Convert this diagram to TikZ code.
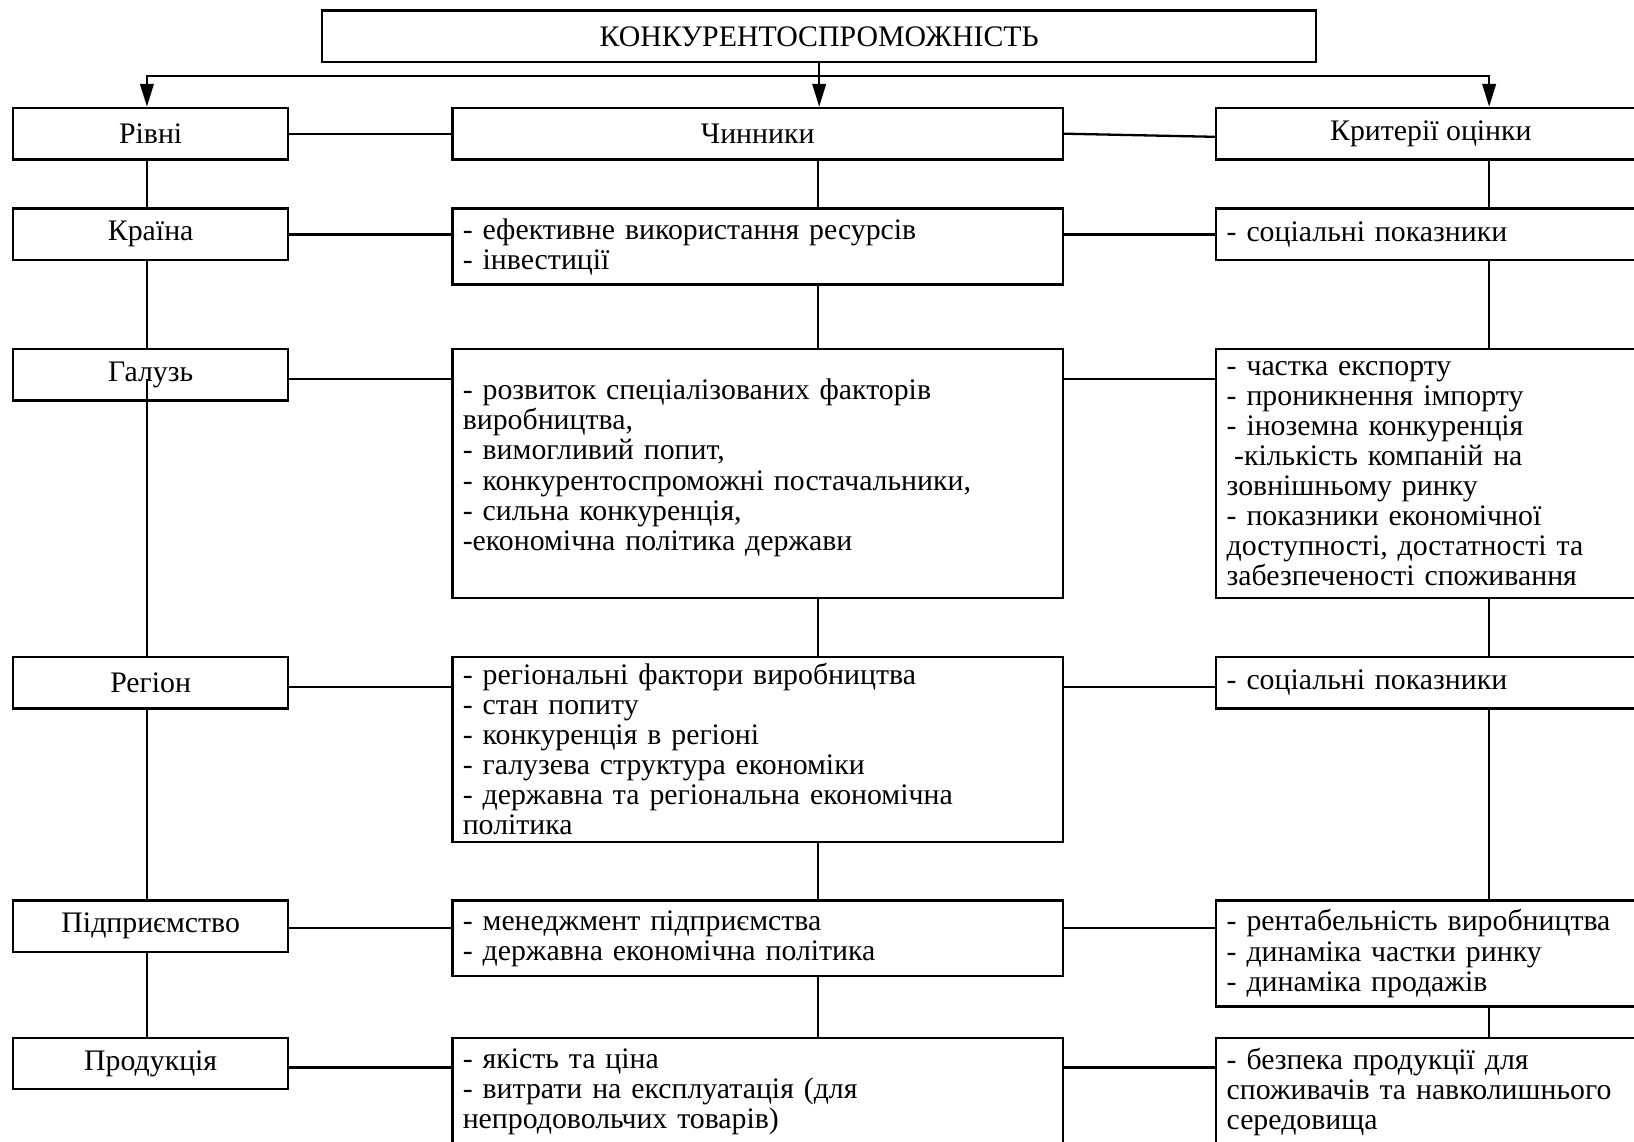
\documentclass[tikz,border=0pt]{standalone}
\usepackage{fontspec}
\setmainfont{Liberation Serif}
\usetikzlibrary{arrows.meta}
\begin{document}
\begin{tikzpicture}[x=0.5pt,y=-0.5pt,
  box/.style={draw, line width=1.1pt, fill=white, anchor=north west, inner ysep=0pt,
    font=\fontsize{14.3pt}{14.4pt}\selectfont},
  lbox/.style={box, minimum width=132pt, inner xsep=0pt, align=center},
  mbox/.style={box, inner xsep=5pt, text width=283pt, align=left},
  mhead/.style={box, minimum width=293pt, inner xsep=0pt, align=center},
  rbox/.style={box, inner xsep=5pt, text width=196pt, align=left},
  rhead/.style={box, minimum width=206pt, inner xsep=0pt, align=center},
  conn/.style={line width=1.1pt},
  arr/.style={line width=1.1pt, -{Triangle[length=11pt,width=6.5pt]}}
]
\useasboundingbox (0,0) rectangle (1568,1095);
\clip (0,0) rectangle (1568,1095);

% top
\node[box, minimum width=477pt, minimum height=24.75pt, inner xsep=0pt, align=center] (top) at (308,9) {КОНКУРЕНТОСПРОМОЖНІСТЬ};

% left column
\node[lbox, minimum height=24.8pt] (riv) at (11.5,102.4) {Рівні};
\node[lbox, minimum height=24.8pt] (kr) at (11.5,199) {Країна};
\node[lbox, minimum height=24.75pt] (gal) at (11.5,333.7) {Галузь};
\node[lbox, minimum height=24.8pt] (reg) at (11.5,629.2) {Регіон};
\node[lbox, minimum height=24.7pt] (pid) at (11.5,863) {Підприємство};
\node[lbox, minimum height=24.4pt] (prod) at (11.5,995) {Продукція};

% middle column
\node[mhead, minimum height=24.8pt] (chin) at (433,102.4) {Чинники};
\node[mbox, minimum height=36.5pt] (m1) at (433,199) {- ефективне використання ресурсів\\- інвестиції};
\node[mbox, minimum height=119.5pt] (m2) at (433,333.7) {- розвиток спеціалізованих факторів\\виробництва,\\- вимогливий попит,\\- конкурентоспроможні постачальники,\\- сильна конкуренція,\\-економічна політика держави\\[-6pt]\mbox{}};
\node[mbox, minimum height=88.8pt] (m3) at (433,629.2) {- регіональні фактори виробництва\\- стан попиту\\- конкуренція в регіоні\\- галузева структура економіки\\- державна та регіональна економічна\\політика};
\node[mbox, minimum height=36.35pt] (m4) at (433,863) {- менеджмент підприємства\\- державна економічна політика};
\node[mbox, minimum height=52pt] (m5) at (433,995) {- якість та ціна\\- витрати на експлуатація (для\\непродовольчих товарів)};

% right column
\node[rhead, minimum height=24.8pt] (krit) at (1166,102.4) {Критерії оцінки};
\node[rbox, minimum height=24.8pt] (r1) at (1166,199) {- соціальні показники};
\node[rbox, minimum height=119.5pt] (r2) at (1166,333.7) {- частка експорту\\- проникнення імпорту\\- іноземна конкуренція\\\hspace*{0.25em}-кількість компаній на\\зовнішньому ринку\\- показники економічної\\доступності, достатності та\\забезпеченості споживання};
\node[rbox, minimum height=24.8pt] (r3) at (1166,629.2) {- соціальні показники};
\node[rbox, minimum height=50.9pt] (r4) at (1166,863) {- рентабельність виробництва\\- динаміка частки ринку\\- динаміка продажів};
\node[rbox, minimum height=52pt] (r5) at (1166,995) {- безпека продукції для\\споживачів та навколишнього\\середовища};

% column lines
\coordinate (L) at (141,0);
\coordinate (M) at (785,0);
\coordinate (R) at (1429,0);
\coordinate (H) at (785,73);

% arrows from top
\draw[arr] (top.south) -- (chin.north -| top.south);
\draw[arr] (H) -| (riv.north -| L);
\draw[arr] (H) -| (krit.north -| R);

% left verticals
\draw[conn] (riv.south -| L) -- (kr.north -| L);
\draw[conn] (kr.south -| L) -- (gal.north -| L);
\draw[conn] ([yshift=-2pt]gal.center -| L) -- (reg.north -| L);
\draw[conn] (reg.south -| L) -- (pid.north -| L);
\draw[conn] (pid.south -| L) -- (prod.north -| L);

% middle verticals
\draw[conn] (chin.south -| M) -- (m1.north -| M);
\draw[conn] (m1.south -| M) -- (m2.north -| M);
\draw[conn] (m2.south -| M) -- (m3.north -| M);
\draw[conn] (m3.south -| M) -- (m4.north -| M);
\draw[conn] (m4.south -| M) -- (m5.north -| M);

% right verticals
\draw[conn] (krit.south -| R) -- (r1.north -| R);
\draw[conn] (r1.south -| R) -- (r2.north -| R);
\draw[conn] (r2.south -| R) -- (r3.north -| R);
\draw[conn] (r3.south -| R) -- (r4.north -| R);
\draw[conn] (r4.south -| R) -- (r5.north -| R);

% horizontals
\draw[conn] (riv.east) -- (riv.east -| chin.west);
\draw[conn] (chin.east) -- ([yshift=-1.5pt]krit.west);
\draw[conn] (kr.east) -- (kr.east -| m1.west);
\draw[conn] (kr.east -| m1.east) -- (kr.east -| r1.west);
\draw[conn] ([yshift=-2pt]gal.east) -- ([yshift=-2pt]gal.east -| m2.west);
\draw[conn] ([yshift=-2pt]gal.east -| m2.east) -- ([yshift=-2pt]gal.east -| r2.west);
\draw[conn] ([yshift=-2pt]reg.east) -- ([yshift=-2pt]reg.east -| m3.west);
\draw[conn] ([yshift=-2pt]reg.east -| m3.east) -- ([yshift=-2pt]reg.east -| r3.west);
\draw[conn] ([yshift=-0.7pt]pid.east) -- ([yshift=-0.7pt]pid.east -| m4.west);
\draw[conn] ([yshift=-0.7pt]pid.east -| m4.east) -- ([yshift=-0.7pt]pid.east -| r4.west);
\draw[conn] ([yshift=-2pt]prod.east) -- ([yshift=-2pt]prod.east -| m5.west);
\draw[conn] ([yshift=-2pt]prod.east -| m5.east) -- ([yshift=-2pt]prod.east -| r5.west);
\end{tikzpicture}
\end{document}
